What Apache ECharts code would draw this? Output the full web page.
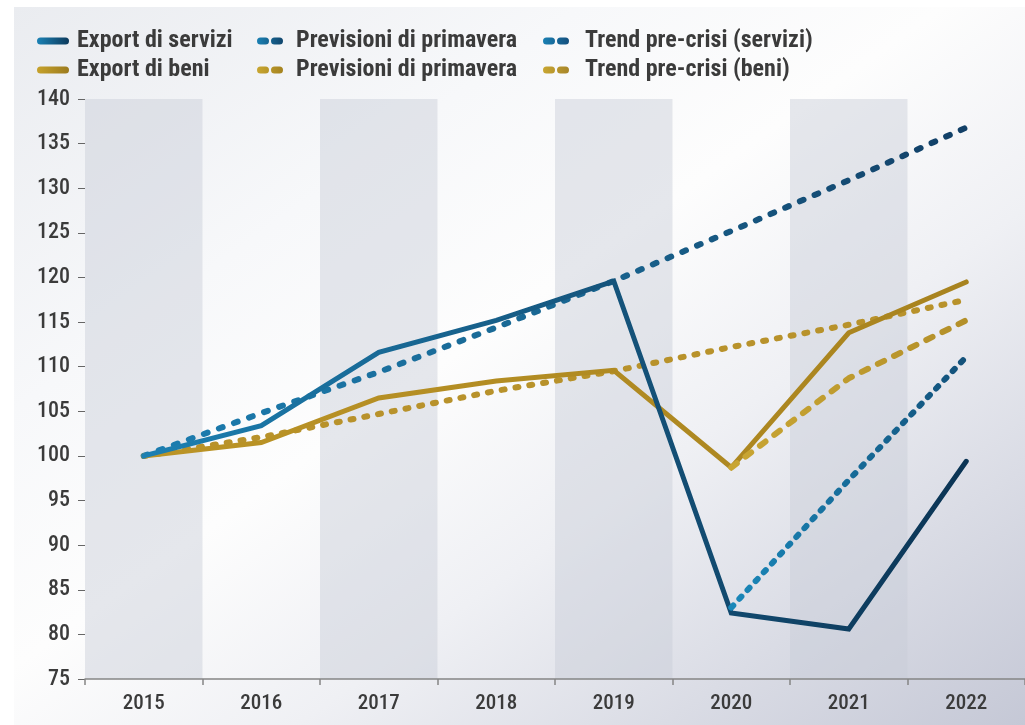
<!DOCTYPE html>
<html>
<head>
<meta charset="utf-8">
<script src="https://cdn.jsdelivr.net/npm/echarts@6/dist/echarts.min.js"></script>
<style>
  html, body { margin: 0; padding: 0; background: #fff; }
  #wrap { position: relative; width: 1025px; height: 725px; overflow: hidden; }
  #panel {
    position: absolute; left: 14px; top: 7px; right: 0; bottom: 0;
    background: linear-gradient(to bottom right, #eaecf0 0%, #f7f8fa 28%, #fdfdfd 46%, #eff0f4 64%, #dadce5 82%, #c5c8d6 100%);
  }
  #chart { position: absolute; left: 0; top: 0; width: 1025px; height: 725px; }
</style>
</head>
<body>
<div id="wrap">
  <div id="panel"></div>
  <div id="chart"></div>
</div>
<script>
// dati
const anni = ["2015", "2016", "2017", "2018", "2019", "2020", "2021", "2022"];
const exportServizi = [100, 103.4, 111.6, 115.2, 119.6, 82.4, 80.6, 99.4];
const exportBeni = [100, 101.5, 106.5, 108.4, 109.6, 98.7, 113.8, 119.5];
const trendServizi = [100, 104.8, 109.4, 114.4, 119.6, 125.2, 130.9, 136.8];
const trendBeni = [100, 102.1, 104.7, 107.3, 109.5, 112.2, 114.7, 117.5];
const previsioniServizi = [null, null, null, null, null, 83, 97.3, 111.1];
const previsioniBeni = [null, null, null, null, null, 98.7, 108.7, 115.2];

const FONT = "'Roboto Condensed','Liberation Sans Narrow','Arial Narrow','DejaVu Sans Condensed',sans-serif";
const TXT = "#3b3b3b";

const grad = (c0, c1, mid) => new echarts.graphic.LinearGradient(0, 0, 1, 0,
  mid ? [{ offset: 0, color: c0 }, { offset: 0.55, color: mid }, { offset: 1, color: c1 }]
      : [{ offset: 0, color: c0 }, { offset: 1, color: c1 }]);

const PILL = "path://M3.5,0H28.5A3.5,3.5,0,0,1,28.5,7H3.5A3.5,3.5,0,0,1,3.5,0Z";
const DOTS = "path://M3.5,0H8.5A3.5,3.5,0,0,1,8.5,7H3.5A3.5,3.5,0,0,1,3.5,0ZM17.5,0H22.5A3.5,3.5,0,0,1,22.5,7H17.5A3.5,3.5,0,0,1,17.5,0Z";

function leg(name, left, top, icon, w, color, pad, label) {
  return {
    left: left, top: top,
    padding: 0,
    selectedMode: false,
    itemWidth: w, itemHeight: 7,
    formatter: label || name,
    textStyle: { color: TXT, fontFamily: FONT, fontWeight: "bold", fontSize: 24, lineHeight: 24, padding: [0, 0, 0, pad] },
    data: [{ name: name, icon: icon, itemStyle: { color: color, borderWidth: 0 } }]
  };
}

const chart = echarts.init(document.getElementById("chart"), null, { renderer: "canvas" });

const option = {
  animation: false,
  backgroundColor: "transparent",
  legend: [
    leg("Export di servizi", 37, 29, PILL, 32, grad("#1b82b5", "#0d3a5c"), 3),
    leg("Previsioni di primavera", 257, 29, DOTS, 28, grad("#1a80b3", "#11466d"), 7),
    leg("Trend pre-crisi (servizi)", 543, 29, DOTS, 26, grad("#1a80b3", "#14507e"), 11),
    leg("Export di beni", 37, 58, PILL, 32, grad("#c6a22b", "#9c7b1f"), 3),
    leg("Previsioni di primavera (beni)", 257, 58, DOTS, 28, grad("#c8a631", "#a5831f"), 7, "Previsioni di primavera"),
    leg("Trend pre-crisi (beni)", 543, 58, DOTS, 26, grad("#c8a631", "#a8862a"), 11)
  ],
  grid: { left: 85, top: 99, width: 944, height: 580 },
  xAxis: {
    type: "category",
    data: anni,
    boundaryGap: true,
    axisLine: { lineStyle: { color: "#858585", width: 1.5 } },
    axisTick: { show: true, length: 6, lineStyle: { color: "#858585", width: 1.5 } },
    axisLabel: { color: TXT, fontFamily: FONT, fontSize: 21, fontWeight: 500, margin: 14 },
    splitLine: { show: false },
    splitArea: { show: true, areaStyle: { color: ["rgba(200,203,216,0.45)", "rgba(255,255,255,0)"] } }
  },
  yAxis: {
    type: "value",
    min: 75, max: 140, interval: 5,
    axisLine: { show: false },
    axisTick: { show: true, length: 7, lineStyle: { color: "#666", width: 1 } },
    axisLabel: { color: TXT, fontFamily: FONT, fontSize: 22, fontWeight: 500, margin: 15 },
    splitLine: { show: false }
  },
  series: [
    {
      name: "Trend pre-crisi (beni)", type: "line", data: trendBeni, symbol: "none", z: 2,
      lineStyle: { width: 6, color: "#b8922b", type: [3, 11], cap: "round", join: "round" }
    },
    {
      name: "Trend pre-crisi (servizi)", type: "line", data: trendServizi, symbol: "none", z: 2,
      lineStyle: { width: 6, color: grad("#1b7db0", "#123f66", "#19648f"), type: [4, 12], cap: "round", join: "round" }
    },
    {
      name: "Export di beni", type: "line", data: exportBeni, symbol: "none", z: 3,
      lineStyle: { width: 5, color: grad("#bb9426", "#a8831f"), cap: "round", join: "miter" }
    },
    {
      name: "Export di servizi", type: "line", data: exportServizi, symbol: "none", z: 3,
      lineStyle: { width: 5, color: grad("#1c80b2", "#0b3454", "#15557d"), cap: "round", join: "miter" }
    },
    {
      name: "Previsioni di primavera (beni)", type: "line", data: previsioniBeni, symbol: "none", z: 4,
      lineStyle: { width: 6, color: grad("#c9a633", "#b38f29"), type: [7, 11], cap: "round", join: "round" }
    },
    {
      name: "Previsioni di primavera", type: "line", data: previsioniServizi, symbol: "none", z: 4,
      lineStyle: { width: 6, color: grad("#1a88ba", "#135079"), type: [3, 9], cap: "round", join: "round" }
    }
  ]
};

chart.setOption(option);
</script>
</body>
</html>
